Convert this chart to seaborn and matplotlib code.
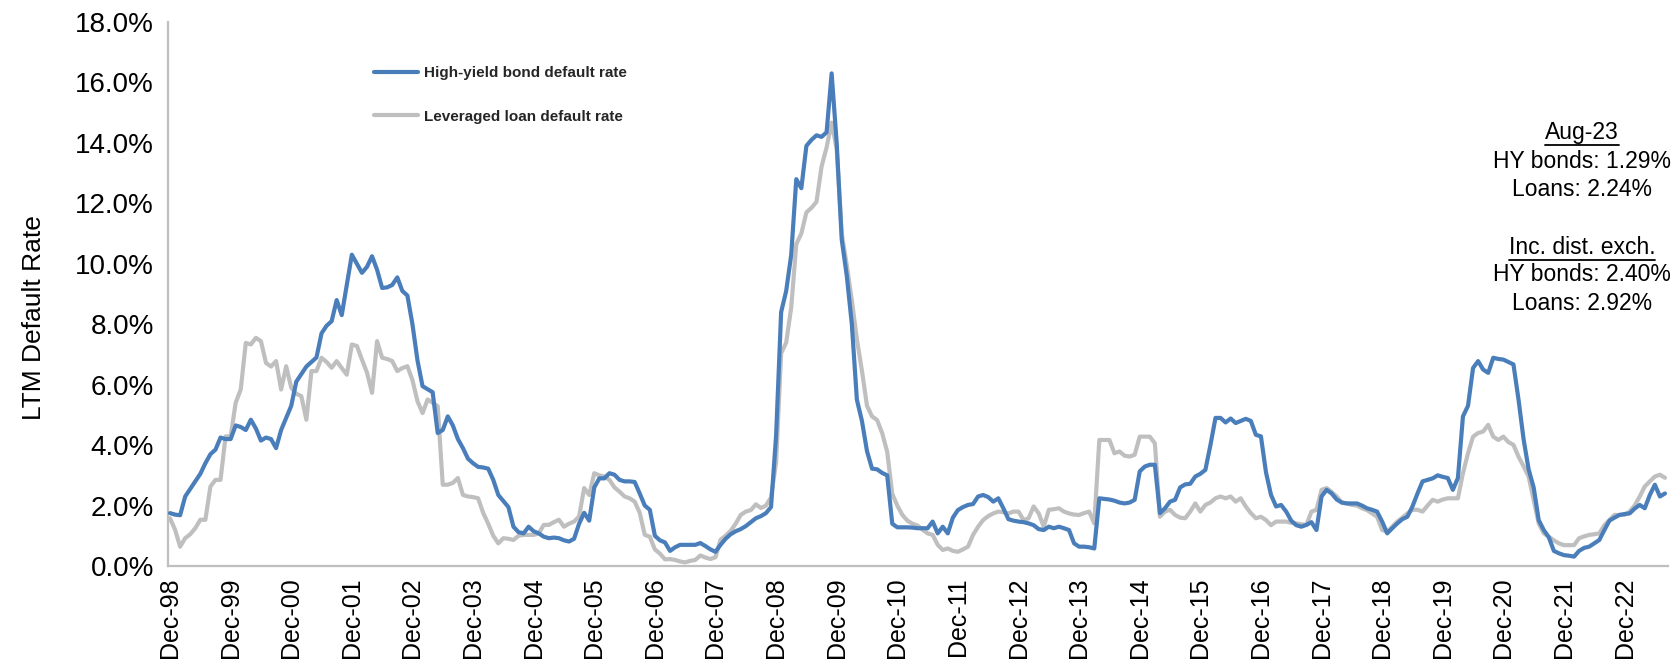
import numpy as np
import pandas as pd
import matplotlib
matplotlib.use("Agg")
import matplotlib.pyplot as plt
from matplotlib.lines import Line2D
from matplotlib.ticker import FuncFormatter
import seaborn as sns

# Monthly trailing-twelve-month default rates (%), Dec-98 through Aug-23.
# Each row holds twelve months, Dec through Nov of the following year.
hy_rate = [
    1.75, 1.70, 1.68, 2.30, 2.55, 2.80, 3.05, 3.40, 3.70, 3.85, 4.25, 4.20,
    4.20, 4.65, 4.60, 4.50, 4.84, 4.55, 4.15, 4.25, 4.20, 3.90, 4.50, 4.90,
    5.30, 6.10, 6.35, 6.60, 6.75, 6.90, 7.70, 7.95, 8.10, 8.80, 8.30, 9.30,
    10.30, 10.00, 9.70, 9.90, 10.25, 9.80, 9.20, 9.22, 9.30, 9.55, 9.10, 8.95,
    8.00, 6.80, 5.95, 5.85, 5.75, 4.40, 4.50, 4.95, 4.65, 4.20, 3.90, 3.55,
    3.40, 3.28, 3.26, 3.22, 2.85, 2.35, 2.15, 1.95, 1.30, 1.12, 1.08, 1.30,
    1.15, 1.08, 0.97, 0.92, 0.94, 0.92, 0.85, 0.81, 0.90, 1.40, 1.76, 1.50,
    2.60, 2.90, 2.90, 3.07, 3.02, 2.85, 2.80, 2.80, 2.78, 2.40, 2.00, 1.86,
    1.00, 0.85, 0.78, 0.50, 0.62, 0.70, 0.70, 0.70, 0.70, 0.76, 0.66, 0.55,
    0.47, 0.70, 0.90, 1.05, 1.15, 1.22, 1.32, 1.45, 1.58, 1.65, 1.75, 1.95,
    4.30, 8.40, 9.10, 10.30, 12.80, 12.50, 13.90, 14.10, 14.25, 14.20, 14.35, 16.30,
    14.00, 10.80, 9.60, 8.00, 5.50, 4.80, 3.80, 3.22, 3.20, 3.08, 3.00, 1.40,
    1.28, 1.28, 1.28, 1.27, 1.25, 1.25, 1.25, 1.47, 1.08, 1.30, 1.08, 1.60,
    1.85, 1.95, 2.02, 2.05, 2.30, 2.35, 2.28, 2.13, 2.24, 1.91, 1.55, 1.50,
    1.47, 1.45, 1.41, 1.35, 1.22, 1.19, 1.30, 1.25, 1.30, 1.25, 1.19, 0.75,
    0.64, 0.64, 0.62, 0.58, 2.24, 2.22, 2.20, 2.16, 2.10, 2.07, 2.10, 2.19,
    3.13, 3.29, 3.35, 3.35, 1.75, 1.91, 2.13, 2.19, 2.60, 2.70, 2.72, 2.96,
    3.05, 3.18, 4.00, 4.90, 4.90, 4.75, 4.88, 4.73, 4.80, 4.87, 4.80, 4.34,
    4.29, 3.10, 2.35, 1.97, 2.02, 1.80, 1.50, 1.35, 1.30, 1.36, 1.45, 1.19,
    2.30, 2.52, 2.40, 2.20, 2.10, 2.07, 2.07, 2.07, 2.00, 1.91, 1.86, 1.80,
    1.47, 1.08, 1.25, 1.41, 1.55, 1.63, 1.97, 2.40, 2.80, 2.85, 2.90, 3.00,
    2.95, 2.91, 2.52, 2.91, 4.95, 5.30, 6.55, 6.78, 6.50, 6.39, 6.89, 6.85,
    6.83, 6.75, 6.67, 5.51, 4.20, 3.20, 2.60, 1.52, 1.19, 0.95, 0.50, 0.42,
    0.36, 0.34, 0.31, 0.50, 0.60, 0.64, 0.75, 0.86, 1.19, 1.50, 1.60, 1.69,
    1.72, 1.74, 1.90, 2.02, 1.91, 2.35, 2.69, 2.30, 2.40,
]

loan_rate = [
    1.58, 1.20, 0.64, 0.92, 1.05, 1.25, 1.53, 1.53, 2.63, 2.85, 2.85, 4.29,
    4.29, 5.40, 5.84, 7.38, 7.33, 7.55, 7.44, 6.72, 6.60, 6.78, 5.84, 6.61,
    5.90, 5.70, 5.62, 4.84, 6.45, 6.45, 6.89, 6.75, 6.56, 6.78, 6.55, 6.33,
    7.33, 7.28, 6.83, 6.40, 5.73, 7.44, 6.89, 6.85, 6.78, 6.45, 6.55, 6.61,
    6.15, 5.45, 5.06, 5.51, 5.40, 5.29, 2.69, 2.69, 2.75, 2.91, 2.35, 2.30,
    2.28, 2.24, 1.76, 1.40, 1.00, 0.75, 0.92, 0.90, 0.86, 1.00, 1.03, 1.03,
    1.03, 1.08, 1.36, 1.36, 1.45, 1.53, 1.30, 1.40, 1.47, 1.64, 2.58, 2.35,
    3.07, 3.00, 2.96, 2.85, 2.60, 2.46, 2.30, 2.24, 2.13, 1.76, 1.03, 0.97,
    0.55, 0.41, 0.22, 0.23, 0.20, 0.15, 0.12, 0.17, 0.20, 0.35, 0.28, 0.23,
    0.29, 0.87, 1.00, 1.16, 1.40, 1.69, 1.80, 1.85, 2.04, 1.92, 2.00, 2.27,
    3.43, 7.04, 7.39, 8.56, 10.65, 11.00, 11.70, 11.85, 12.05, 13.21, 13.85, 14.67,
    13.80, 11.00, 9.95, 8.79, 7.50, 6.46, 5.30, 4.95, 4.83, 4.40, 3.78, 2.39,
    2.00, 1.69, 1.50, 1.40, 1.34, 1.20, 1.08, 1.03, 0.70, 0.53, 0.58, 0.50,
    0.47, 0.55, 0.64, 1.03, 1.30, 1.52, 1.65, 1.74, 1.80, 1.78, 1.74, 1.80,
    1.80, 1.52, 1.58, 1.97, 1.74, 1.30, 1.86, 1.88, 1.91, 1.80, 1.74, 1.70,
    1.69, 1.75, 1.80, 1.41, 4.17, 4.17, 4.17, 3.73, 3.79, 3.65, 3.62, 3.68,
    4.28, 4.28, 4.28, 4.06, 1.63, 1.80, 1.86, 1.69, 1.60, 1.58, 1.80, 2.07,
    1.80, 2.02, 2.10, 2.24, 2.30, 2.24, 2.30, 2.13, 2.24, 1.97, 1.75, 1.58,
    1.63, 1.52, 1.35, 1.47, 1.47, 1.47, 1.43, 1.41, 1.38, 1.36, 1.80, 1.86,
    2.52, 2.58, 2.45, 2.30, 2.10, 2.07, 2.02, 2.00, 1.91, 1.85, 1.74, 1.63,
    1.19, 1.14, 1.30, 1.47, 1.60, 1.74, 1.86, 1.86, 1.80, 2.00, 2.19, 2.13,
    2.20, 2.24, 2.24, 2.24, 3.07, 3.73, 4.28, 4.40, 4.45, 4.67, 4.28, 4.17,
    4.28, 4.10, 4.01, 3.62, 3.30, 2.96, 2.19, 1.41, 1.08, 0.97, 0.85, 0.75,
    0.69, 0.69, 0.69, 0.92, 0.98, 1.03, 1.05, 1.08, 1.35, 1.52, 1.69, 1.69,
    1.69, 1.80, 2.00, 2.30, 2.63, 2.80, 2.96, 3.02, 2.92,
]

series_names = ["High-yield bond default rate", "Leveraged loan default rate"]
series_colors = ["#4a7ebb", "#bfbfbf"]

months = pd.date_range("1998-12-01", "2023-08-01", freq="MS")
tick_labels = [d.strftime("Dec-%y") for d in months if d.month == 12]

note_lines = [
    ("Aug-23", True),
    ("HY bonds: 1.29%", False),
    ("Loans: 2.24%", False),
    ("Inc. dist. exch.", True),
    ("HY bonds: 2.40%", False),
    ("Loans: 2.92%", False),
]

# ---------------------------------------------------------------------------
sns.set_theme(style="white")
plt.rcParams["font.family"] = ["Liberation Sans", "DejaVu Sans"]

pos = np.arange(len(months))
df = pd.concat([
    pd.DataFrame({"pos": pos, "rate": hy_rate, "series": series_names[0]}),
    pd.DataFrame({"pos": pos, "rate": loan_rate, "series": series_names[1]}),
])

W, H = 1677, 665
fig = plt.figure(figsize=(W / 100, H / 100), dpi=100)
ax = fig.add_axes([168 / W, 1 - 566 / H, 1500 / W, 544 / H])

palette = dict(zip(series_names, series_colors))
# Loans first so the bond line sits on top
sns.lineplot(data=df, x="pos", y="rate", hue="series",
             hue_order=series_names[::-1], palette=palette,
             linewidth=3.0, legend=False, ax=ax, zorder=3)

ax.set_xlim(-0.4, len(months) - 0.4)
ax.set_ylim(0, 18)
ax.set_yticks(np.arange(0, 18.1, 2))
ax.yaxis.set_major_formatter(FuncFormatter(lambda v, _: f"{v:.1f}%"))
ax.set_xticks(pos[::12])
ax.set_xticklabels(tick_labels, rotation=90)
ax.set_xlabel("")
ax.set_ylabel("LTM Default Rate", fontsize=19, color="#000000", labelpad=0)
ax.yaxis.set_label_coords(-0.081, 0.456)

for side in ["top", "right"]:
    ax.spines[side].set_visible(False)
for side in ["left", "bottom"]:
    ax.spines[side].set_color("#bfbfbf")
    ax.spines[side].set_linewidth(1.6)
ax.tick_params(axis="both", which="major", direction="out", length=5,
               width=1.2, color="#9a9a9a", labelcolor="#000000")
ax.tick_params(axis="y", labelsize=20, pad=5)
ax.tick_params(axis="x", labelsize=18, pad=3)
ax.grid(False)

handles = [Line2D([0], [0], color=c, lw=3.0) for c in series_colors]
ax.legend(handles, series_names, loc="upper left",
          bbox_to_anchor=(374 / W, 1 - 66 / H), bbox_transform=fig.transFigure,
          frameon=False, handlelength=2.9, handletextpad=0.35,
          labelspacing=1.95, borderpad=0, borderaxespad=0,
          prop={"weight": "bold", "size": 11})

# Aug-23 notes on the right, headings underlined
note_x = 1582 / W
note_y = [132, 161, 190, 247, 275, 303]
fig.canvas.draw()
renderer = fig.canvas.get_renderer()
for (txt, underline), yp in zip(note_lines, note_y):
    t = fig.text(note_x, 1 - yp / H, txt, ha="center", va="center",
                 fontsize=16.5, color="#000000")
    if underline:
        bb = t.get_window_extent(renderer=renderer)
        yl = (bb.y0 - 1) / H
        fig.add_artist(Line2D([bb.x0 / W, bb.x1 / W], [yl, yl],
                              transform=fig.transFigure, color="#000000", lw=1.3))

fig.savefig("out.png", dpi=100)
